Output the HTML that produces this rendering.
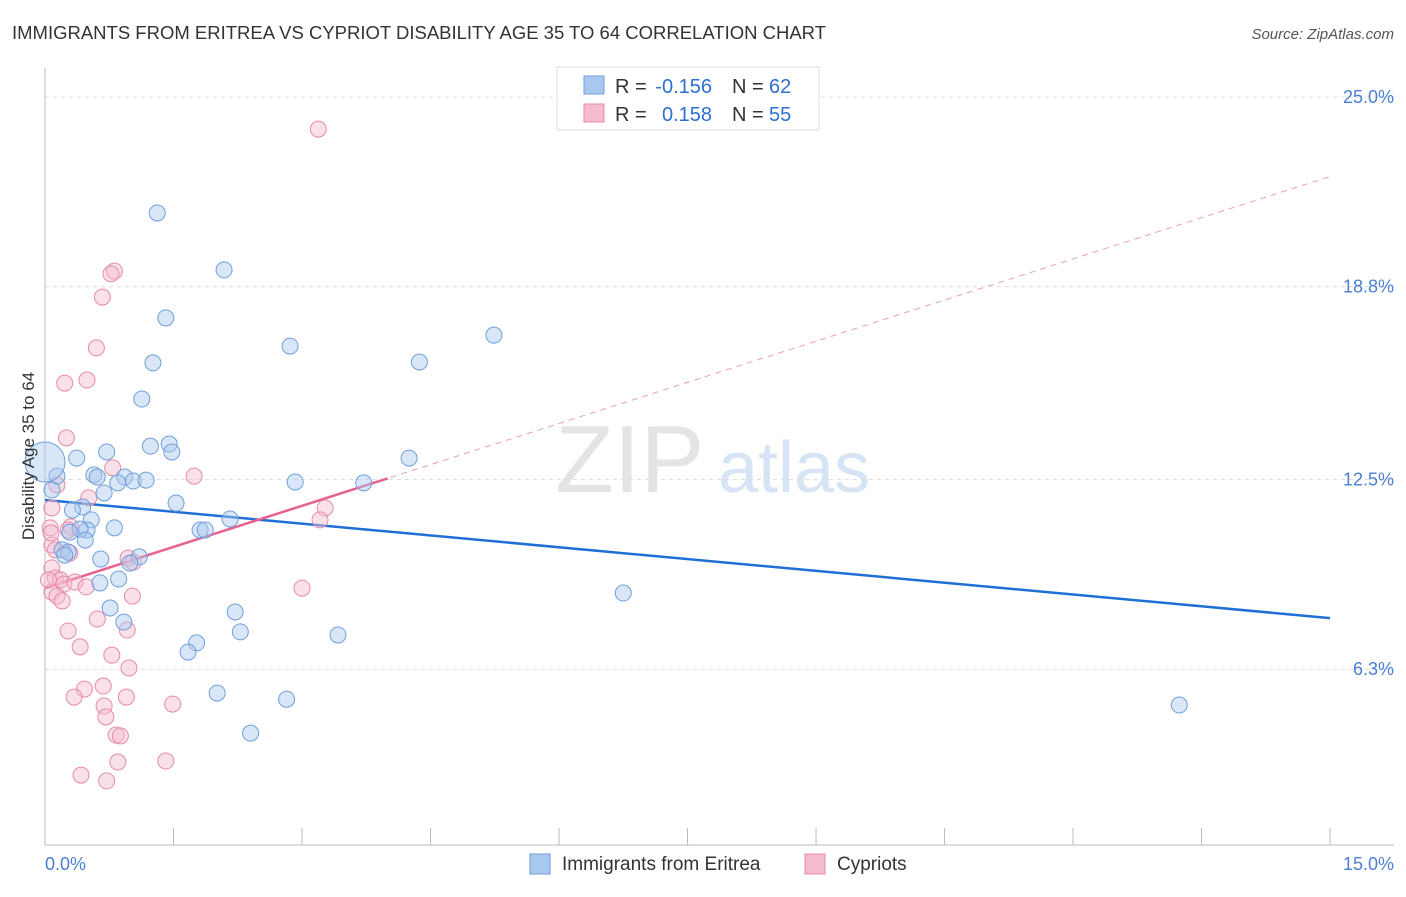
<!DOCTYPE html>
<html><head><meta charset="utf-8"><style>
body{margin:0;background:#fff;font-family:"Liberation Sans",sans-serif}
svg text{font-family:"Liberation Sans",sans-serif}
</style></head><body>
<svg id="chart" width="1406" height="892" xmlns="http://www.w3.org/2000/svg">
<text x="12" y="39" font-size="18" fill="#333" textLength="814" lengthAdjust="spacingAndGlyphs">IMMIGRANTS FROM ERITREA VS CYPRIOT DISABILITY AGE 35 TO 64 CORRELATION CHART</text>
<text x="1394" y="39" font-size="15" fill="#555" font-style="italic" text-anchor="end">Source: ZipAtlas.com</text>
<text x="555" y="492" font-size="96" fill="#e4e4e4" font-family="Liberation Serif">ZIP</text>
<text x="718" y="492" font-size="72" fill="#d6e4f5">atlas</text>
<g id="grid"></g>
<g id="axes"></g>
<g id="lines"></g>
<g id="points"></g>
<text transform="translate(34,456) rotate(-90)" font-size="17" fill="#333" text-anchor="middle">Disability Age 35 to 64</text>
<text x="45" y="870" font-size="18" fill="#4a7fd4">0.0%</text>
<text x="1394" y="870" font-size="18" fill="#4a7fd4" text-anchor="end">15.0%</text>
<g>
<rect x="557" y="67" width="262" height="63" fill="#fff" stroke="#ddd"/>
<rect x="584" y="76" width="20" height="18" fill="#a9c8ee" stroke="#6f9fdc"/>
<rect x="584" y="104" width="20" height="18" fill="#f5bccf" stroke="#e88aa8"/>
<text x="615" y="93" font-size="20" fill="#333">R =</text>
<text x="712" y="93" font-size="20" fill="#2f6fd0" text-anchor="end">-0.156</text>
<text x="732" y="93" font-size="20" fill="#333">N =</text>
<text x="769" y="93" font-size="20" fill="#2f6fd0">62</text>
<text x="615" y="121" font-size="20" fill="#333">R =</text>
<text x="712" y="121" font-size="20" fill="#2f6fd0" text-anchor="end">0.158</text>
<text x="732" y="121" font-size="20" fill="#333">N =</text>
<text x="769" y="121" font-size="20" fill="#2f6fd0">55</text>
</g>
<g>
<rect x="530" y="854" width="20" height="20" fill="#a9c8ee" stroke="#6f9fdc"/>
<text x="562" y="870" font-size="19" fill="#333">Immigrants from Eritrea</text>
<rect x="805" y="854" width="20" height="20" fill="#f5bccf" stroke="#e88aa8"/>
<text x="837" y="870" font-size="19" fill="#333">Cypriots</text>
</g>
</svg>
<script>
const yTicks=[25.0,18.8,12.5,6.3];
const yTickLabels=["25.0%","18.8%","12.5%","6.3%"];
const xTicks=[0,1.5,3,4.5,6,7.5,9,10.5,12,13.5,15];
const blueX=[1.31,2.09,1.41,2.86,5.24,4.37,1.26,1.13,1.23,1.45,1.48,0.72,0.37,4.25,0.57,0.61,0.93,1.03,1.18,0.85,2.92,3.72,0.14,0.08,0.69,1.53,0.44,0.32,0.54,2.16,1.81,1.87,0.81,0.49,0.41,0.29,0.47,0.20,0.27,0.23,0.65,1.10,0.99,0.86,0.64,6.75,0.76,2.22,0.92,2.28,3.42,1.77,1.67,2.01,2.82,2.40,13.24];
const blueY=[21.21,19.35,17.78,16.86,17.22,16.34,16.31,15.13,13.59,13.66,13.40,13.40,13.20,13.20,12.65,12.58,12.58,12.45,12.48,12.39,12.42,12.39,12.61,12.16,12.06,11.73,11.60,11.50,11.18,11.21,10.85,10.85,10.92,10.85,10.88,10.78,10.52,10.20,10.13,10.03,9.90,9.97,9.77,9.25,9.12,8.79,8.30,8.17,7.84,7.52,7.42,7.16,6.86,5.52,5.32,4.21,5.13];
const pinkX=[3.19,0.81,0.77,0.67,0.60,0.23,0.49,0.25,0.79,1.74,0.51,0.14,0.08,0.06,0.30,0.27,3.27,3.21,0.08,0.12,0.29,0.97,1.03,0.08,0.12,0.18,0.22,0.35,0.48,0.08,3.00,1.02,0.14,0.20,0.61,0.27,0.96,0.41,0.78,0.98,0.68,0.46,0.34,0.95,0.69,1.49,0.71,0.83,0.88,0.85,1.41,0.42,0.72,0.07,0.04];
const pinkY=[23.95,19.31,19.22,18.46,16.80,15.65,15.75,13.86,12.88,12.61,11.90,12.32,11.57,10.92,10.95,10.85,11.57,11.18,10.36,10.20,10.10,9.93,9.80,9.61,9.28,9.22,9.08,9.15,8.99,8.82,8.95,8.69,8.69,8.53,7.94,7.55,7.58,7.03,6.76,6.34,5.75,5.65,5.39,5.39,5.10,5.16,4.74,4.15,4.12,3.27,3.30,2.84,2.65,10.75,9.22];
const blueTrend=[11.83,7.97];
const pinkTrend=[8.95,22.4];
const pinkSolidEnd=4.0;
const NS="http://www.w3.org/2000/svg";
const X=v=>45+v*85.67, Y=v=>97+(25-v)*30.6;
function mk(tag,attrs,parent){const e=document.createElementNS(NS,tag);for(const k in attrs)e.setAttribute(k,attrs[k]);parent.appendChild(e);return e;}
const grid=document.getElementById('grid'),axes=document.getElementById('axes'),lines=document.getElementById('lines'),pts=document.getElementById('points');
yTicks.forEach((t,i)=>{
 const l=mk('line',{x1:45,x2:1394,y1:Y(t),y2:Y(t),stroke:'#ddd','stroke-dasharray':'4,4'},grid);
 
 
 const tx=mk('text',{x:1394,y:Y(t)+6,'font-size':18,fill:'#4a7fd4','text-anchor':'end'},grid);
 tx.textContent=yTickLabels[i];
 
 
});
const ax=mk('line',{x1:45,x2:45,y1:68,y2:845,stroke:'#bbb'},axes);


const bx=mk('line',{x1:45,x2:1394,y1:845,y2:845,stroke:'#bbb'},axes);


xTicks.forEach(t=>{
 const l=mk('line',{x1:X(t),x2:X(t),y1:828,y2:845,stroke:'#bbb'},axes);
 
 
});
function pt(xs,ys,fill,stroke,name){xs.forEach((x,i)=>{
 const c=mk('circle',{cx:X(x),cy:Y(ys[i]),r:8,fill:fill,'fill-opacity':0.45,stroke:stroke,'stroke-width':1},pts);
 
 
});}
pt(pinkX,pinkY,'#f5bccf','#e88aa8','cypriot-point');
pt(blueX,blueY,'#a9c8ee','#6f9fdc','eritrea-point');
const big=mk('circle',{cx:X(0),cy:Y(13.07),r:20,fill:'#a9c8ee','fill-opacity':0.45,stroke:'#6f9fdc'},pts);


const bl=mk('line',{x1:X(0),y1:Y(blueTrend[0]),x2:X(15),y2:Y(blueTrend[1]),stroke:'#1f6fd6','stroke-width':2.5},lines);


const pd=mk('line',{x1:X(0),y1:Y(pinkTrend[0]),x2:X(15),y2:Y(pinkTrend[1]),stroke:'#e8a0b8','stroke-width':1,'stroke-dasharray':'6,5'},lines);


const ps=mk('line',{x1:X(0),y1:Y(pinkTrend[0]),x2:X(pinkSolidEnd),y2:Y(pinkTrend[0]+(pinkTrend[1]-pinkTrend[0])*pinkSolidEnd/15),stroke:'#e8608f','stroke-width':2.5},lines);


</script>
</body></html>
